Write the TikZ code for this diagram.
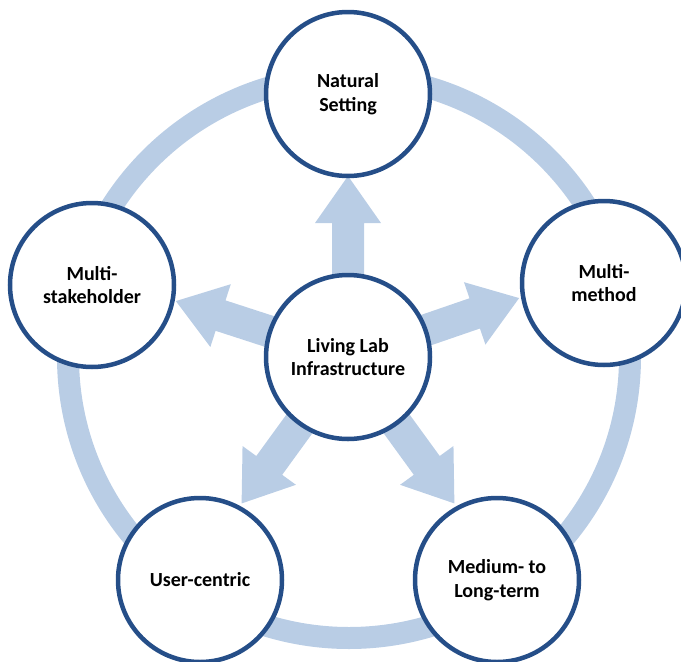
\documentclass[tikz,border=0pt]{standalone}
\usepackage{fontspec}
\setmainfont{Carlito}
\usetikzlibrary{calc}

\definecolor{ringblue}{HTML}{B9CDE5}
\definecolor{edgeblue}{HTML}{254E88}

\tikzset{
  bubble/.style={circle, draw=edgeblue, line width=4.5pt, fill=white,
    minimum size=164pt, inner sep=0pt, align=center, text=black,
    font=\fontsize{20}{23.5}\selectfont\bfseries},
  ringline/.style={draw=ringblue, line width=22pt},
  blockarrow/.style={fill=ringblue, draw=none}
}

% one wide block arrow, pointing along +x from the origin
\newcommand{\blockarrowpath}{%
  (0,-16) -- (134,-16) -- (134,-33) -- (181,0) -- (134,33) -- (134,16) -- (0,16) -- cycle}

\begin{document}
\begin{tikzpicture}[x=1pt,y=1pt]
  \useasboundingbox (0,0) rectangle (681,-662);

  % surrounding ring
  \coordinate (ringc) at (349,-357);
  \draw[ringline] (ringc) circle (281);

  % centre position
  \coordinate (hub) at (348,-357);

  % outward arrows
  \foreach \ang in {90,162,234,306,19}{
    \begin{scope}[shift={(hub)}, rotate=\ang]
      \fill[blockarrow] \blockarrowpath;
    \end{scope}
  }

  % outer bubbles
  \node[bubble] (natural) at (348,-94)  {Natural\\Setting};
  \node[bubble] (stake)   at (92,-285)  {Multi-\\stakeholder};
  \node[bubble] (method)  at (604,-283) {Multi-\\method};
  \node[bubble] (user)    at (200,-580) {User-centric};
  \node[bubble] (term)    at (497,-580) {Medium- to\\Long-term};

  % centre bubble
  \node[bubble] (lab) at (hub) {Living Lab\\Infrastructure};
\end{tikzpicture}
\end{document}
